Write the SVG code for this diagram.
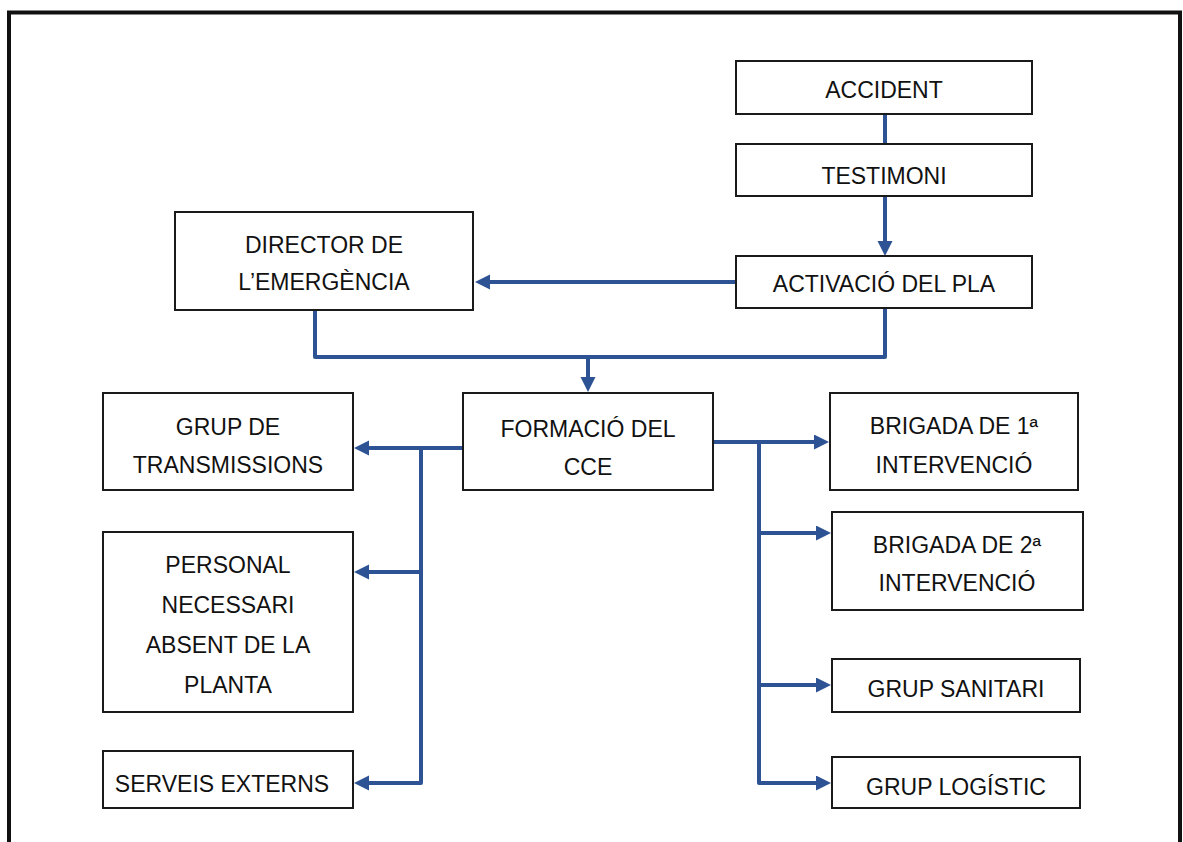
<svg xmlns="http://www.w3.org/2000/svg" width="1183" height="842" viewBox="0 0 1183 842">
  <style>
    .box { fill: #ffffff; stroke: #1a1a1a; stroke-width: 2; }
    .lbl { font-family: "Liberation Sans", Arial, sans-serif; font-size: 23px; fill: #111111; text-anchor: middle; }
    .con { fill: none; stroke: #2E5395; stroke-width: 4; stroke-linejoin: round; }
    .frame { fill: none; stroke: #111111; stroke-width: 4; }
  </style>
  <defs>
    <marker id="arr" markerUnits="userSpaceOnUse" markerWidth="17" markerHeight="16" refX="1" refY="7.5" orient="auto">
      <path d="M0,0 L15,7.5 L0,15 z" fill="#2E5395"/>
    </marker>
  </defs>
  <rect width="1183" height="842" fill="#ffffff"/>
  <path class="frame" d="M9,842 V12.5 H1180 V842"/>

  <g id="connectors">
    <line class="con" x1="885" y1="114" x2="885" y2="144"/>
    <line class="con" x1="885" y1="196" x2="885" y2="242" marker-end="url(#arr)"/>
    <line class="con" x1="736" y1="282" x2="489" y2="282" marker-end="url(#arr)"/>
    <polyline class="con" points="315,310 315,357 885,357 885,308"/>
    <line class="con" x1="588" y1="357" x2="588" y2="378" marker-end="url(#arr)"/>
    <line class="con" x1="463" y1="448" x2="368" y2="448" marker-end="url(#arr)"/>
    <polyline class="con" points="421,448 421,783 368,783" marker-end="url(#arr)"/>
    <line class="con" x1="421" y1="572" x2="368" y2="572" marker-end="url(#arr)"/>
    <line class="con" x1="713" y1="442" x2="815" y2="442" marker-end="url(#arr)"/>
    <polyline class="con" points="759,442 759,783 817,783" marker-end="url(#arr)"/>
    <line class="con" x1="759" y1="533" x2="817" y2="533" marker-end="url(#arr)"/>
    <line class="con" x1="759" y1="685" x2="817" y2="685" marker-end="url(#arr)"/>
  </g>

  <g id="accident">
    <rect class="box" x="736" y="61" width="296" height="53"/>
    <text class="lbl" x="884" y="98">ACCIDENT</text>
  </g>
  <g id="testimoni">
    <rect class="box" x="736" y="144" width="296" height="52"/>
    <text class="lbl" x="884" y="184">TESTIMONI</text>
  </g>
  <g id="activacio">
    <rect class="box" x="736" y="256" width="296" height="52"/>
    <text class="lbl" x="884" y="292">ACTIVACIÓ DEL PLA</text>
  </g>
  <g id="director">
    <rect class="box" x="175" y="212" width="298" height="98"/>
    <text class="lbl" x="324" y="253">DIRECTOR DE</text>
    <text class="lbl" x="324" y="290">L’EMERGÈNCIA</text>
  </g>
  <g id="formacio">
    <rect class="box" x="463" y="393" width="250" height="97"/>
    <text class="lbl" x="588" y="437">FORMACIÓ DEL</text>
    <text class="lbl" x="588" y="475">CCE</text>
  </g>
  <g id="transmissions">
    <rect class="box" x="103" y="393" width="250" height="97"/>
    <text class="lbl" x="228" y="435">GRUP DE</text>
    <text class="lbl" x="228" y="473">TRANSMISSIONS</text>
  </g>
  <g id="personal">
    <rect class="box" x="103" y="532" width="250" height="180"/>
    <text class="lbl" x="228" y="573">PERSONAL</text>
    <text class="lbl" x="228" y="613">NECESSARI</text>
    <text class="lbl" x="228" y="653">ABSENT DE LA</text>
    <text class="lbl" x="228" y="693">PLANTA</text>
  </g>
  <g id="serveis">
    <rect class="box" x="103" y="751" width="250" height="57"/>
    <text class="lbl" x="222" y="792">SERVEIS EXTERNS</text>
  </g>
  <g id="brigada1">
    <rect class="box" x="830" y="393" width="248" height="97"/>
    <text class="lbl" x="954" y="434">BRIGADA DE 1ª</text>
    <text class="lbl" x="954" y="473">INTERVENCIÓ</text>
  </g>
  <g id="brigada2">
    <rect class="box" x="832" y="512" width="251" height="98"/>
    <text class="lbl" x="957" y="553">BRIGADA DE 2ª</text>
    <text class="lbl" x="957" y="591">INTERVENCIÓ</text>
  </g>
  <g id="sanitari">
    <rect class="box" x="832" y="659" width="248" height="53"/>
    <text class="lbl" x="956" y="697">GRUP SANITARI</text>
  </g>
  <g id="logistic">
    <rect class="box" x="832" y="757" width="248" height="51"/>
    <text class="lbl" x="956" y="795">GRUP LOGÍSTIC</text>
  </g>
</svg>
